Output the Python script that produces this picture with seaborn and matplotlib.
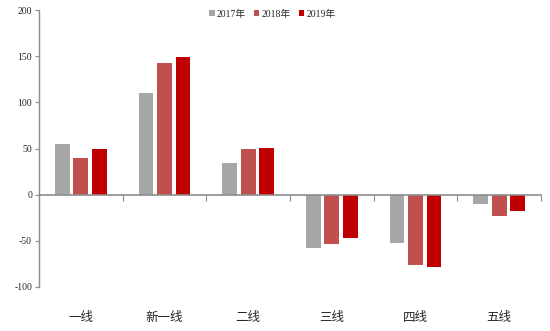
import matplotlib
matplotlib.use("Agg")
import matplotlib.pyplot as plt
import seaborn as sns
import pandas as pd

# City tiers and yearly values
tiers = ["一线", "新一线", "二线", "三线", "四线", "五线"]
years = ["2017年", "2018年", "2019年"]
v2017 = [55, 110, 34, -58, -52, -10]
v2018 = [40, 143, 50, -53, -76, -23]
v2019 = [50, 149, 51, -47, -78, -18]
yticks = [-100, -50, 0, 50, 100, 150, 200]
colors = ["#A6A6A6", "#C0504D", "#C00000"]

df = pd.DataFrame({
    "tier": tiers * 3,
    "year": [years[0]] * 6 + [years[1]] * 6 + [years[2]] * 6,
    "value": v2017 + v2018 + v2019,
})

sns.set_theme(style="white")
plt.rcParams["font.family"] = ["Liberation Serif", "Noto Sans CJK SC", "DejaVu Sans"]

fig = plt.figure(figsize=(5.5, 3.31), dpi=100)
ax = fig.add_axes([39 / 550, 1 - 287 / 331, 502 / 550, 277 / 331])

sns.barplot(data=df, x="tier", y="value", hue="year", order=tiers,
            hue_order=years, palette=colors, width=0.66, gap=0.2,
            saturation=1, edgecolor="none", linewidth=0, ax=ax)

ax.set_xlim(-0.5, len(tiers) - 0.5)
ax.set_ylim(yticks[0], yticks[-1])
ax.set_xlabel("")
ax.set_ylabel("")

spine_col = "#8C8C8C"
for s in ["top", "right"]:
    ax.spines[s].set_visible(False)
ax.spines["left"].set_color(spine_col)
ax.spines["left"].set_linewidth(1.0)
ax.spines["bottom"].set_position(("data", 0))
ax.spines["bottom"].set_color(spine_col)
ax.spines["bottom"].set_linewidth(1.2)

ax.set_yticks(yticks)
ax.set_yticklabels([str(t) for t in yticks], fontsize=7)
ax.tick_params(axis="y", direction="out", length=3, width=0.8, color=spine_col,
               left=True, pad=2)

# Boundary ticks on the zero line, no labels
ax.set_xticks([i - 0.5 for i in range(len(tiers) + 1)])
ax.set_xticklabels([])
ax.tick_params(axis="x", direction="out", length=4, width=0.8, color=spine_col,
               bottom=True)

# Category labels along the bottom edge
sec = ax.secondary_xaxis(location=0)
sec.set_xticks(range(len(tiers)))
sec.set_xticklabels(tiers, fontsize=9, family=["Noto Sans CJK SC"], fontweight="medium")
sec.tick_params(axis="x", length=0, pad=17)
sec.spines["bottom"].set_visible(False)

leg = ax.legend(loc="upper center", bbox_to_anchor=(0.465, 1.02), ncol=3,
                frameon=False, fontsize=7, handlelength=0.55, handleheight=0.55,
                handletextpad=0.25, columnspacing=0.8, borderaxespad=0.1)
for t in leg.get_texts():
    t.set_family(["Liberation Serif", "Noto Sans CJK SC"])

fig.savefig("out.png", dpi=100, facecolor="white")
